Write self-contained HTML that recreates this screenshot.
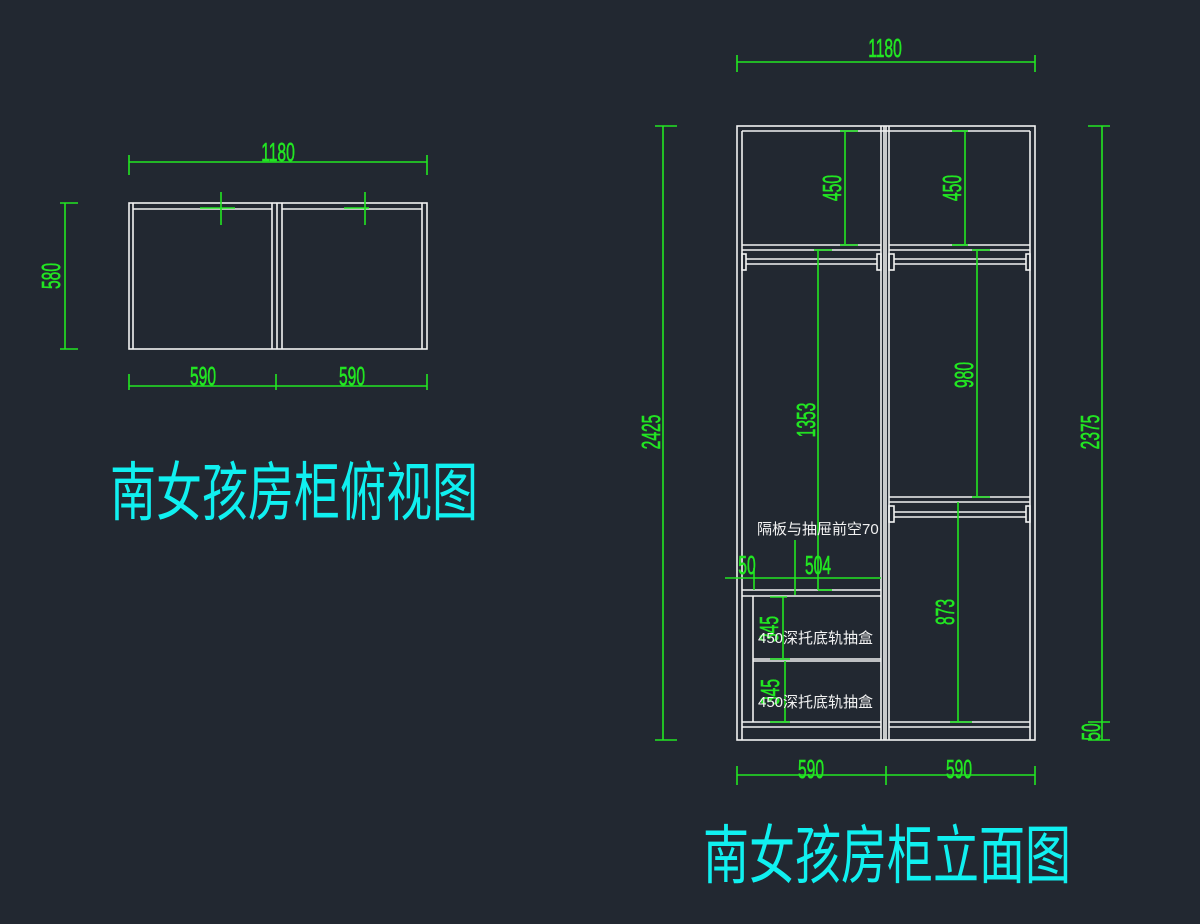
<!DOCTYPE html>
<html><head><meta charset="utf-8"><style>
html,body{margin:0;padding:0;background:#222831;}
svg{display:block}
.w{stroke:#f2f2f2;stroke-width:1.6;fill:none}
.g{stroke:#22e622;stroke-width:1.6;fill:none}
.gt{fill:#22e622;stroke:#22e622;stroke-width:0.6;font-family:"Liberation Sans",sans-serif;font-size:26px}
.ct{fill:#10f0f0;font-family:"Liberation Sans","Noto Sans CJK SC",sans-serif;font-size:64px}
.wt{fill:#f2f2f2;font-family:"Liberation Sans","Noto Sans CJK SC",sans-serif;font-size:15px}
</style></head><body>
<svg width="1200" height="924" viewBox="0 0 1200 924">
<rect width="1200" height="924" fill="#222831"/>
<!-- top view -->
<g class="w">
<rect x="129" y="203" width="298" height="146"/>
<line x1="133" y1="203" x2="133" y2="349"/>
<line x1="422" y1="203" x2="422" y2="349"/>
<line x1="272" y1="203" x2="272" y2="349"/>
<line x1="277" y1="203" x2="277" y2="349"/>
<line x1="282" y1="203" x2="282" y2="349"/>
<line x1="133" y1="209" x2="272" y2="209"/>
<line x1="282" y1="209" x2="422" y2="209"/>
</g>
<g class="g">
<line x1="129" y1="162" x2="427" y2="162"/><line x1="129" y1="155" x2="129" y2="175"/><line x1="427" y1="155" x2="427" y2="175"/>
<line x1="65" y1="203" x2="65" y2="349"/><line x1="60" y1="203" x2="78" y2="203"/><line x1="60" y1="349" x2="78" y2="349"/>
<line x1="129" y1="386" x2="427" y2="386"/><line x1="129" y1="374" x2="129" y2="390"/><line x1="276" y1="374" x2="276" y2="390"/><line x1="427" y1="374" x2="427" y2="390"/>
<line x1="221" y1="192" x2="221" y2="225"/><line x1="200" y1="208" x2="235" y2="208"/>
<line x1="365" y1="192" x2="365" y2="225"/><line x1="344" y1="208" x2="369" y2="208"/>
</g>
<g class="gt">
<text x="278" y="161" text-anchor="middle" transform="translate(278 0) scale(0.6 1) translate(-278 0)">1180</text>
<text x="203" y="385" text-anchor="middle" transform="translate(203 0) scale(0.6 1) translate(-203 0)">590</text>
<text x="352" y="385" text-anchor="middle" transform="translate(352 0) scale(0.6 1) translate(-352 0)">590</text>
<text text-anchor="middle" transform="translate(60 276) rotate(-90) scale(0.6 1)">580</text>
</g>
<text class="ct" x="110" y="515" textLength="368" lengthAdjust="spacingAndGlyphs">南女孩房柜俯视图</text>

<!-- elevation -->
<g class="w">
<rect x="737" y="126" width="298" height="614"/>
<line x1="742" y1="131" x2="742" y2="740"/>
<line x1="1030" y1="131" x2="1030" y2="740"/>
<line x1="742" y1="131" x2="1030" y2="131"/>
<line x1="881" y1="126" x2="881" y2="740"/><line x1="884" y1="126" x2="884" y2="740"/>
<line x1="886" y1="126" x2="886" y2="740"/><line x1="889" y1="126" x2="889" y2="740"/>
<line x1="742" y1="245" x2="881" y2="245"/><line x1="742" y1="250" x2="881" y2="250"/>
<line x1="889" y1="245" x2="1030" y2="245"/><line x1="889" y1="250" x2="1030" y2="250"/>
<line x1="746" y1="259" x2="877" y2="259"/><line x1="746" y1="264" x2="877" y2="264"/>
<rect x="742" y="254" width="4" height="16"/><rect x="877" y="254" width="4" height="16"/>
<line x1="894" y1="259" x2="1026" y2="259"/><line x1="894" y1="264" x2="1026" y2="264"/>
<rect x="889" y="254" width="5" height="16"/><rect x="1026" y="254" width="4" height="16"/>
<line x1="889" y1="497" x2="1030" y2="497"/><line x1="889" y1="502" x2="1030" y2="502"/>
<line x1="894" y1="512" x2="1026" y2="512"/><line x1="894" y1="517" x2="1026" y2="517"/>
<rect x="889" y="506" width="5" height="16"/><rect x="1026" y="506" width="4" height="16"/>
<line x1="742" y1="590" x2="881" y2="590"/><line x1="742" y1="596" x2="881" y2="596"/>
<line x1="753" y1="596" x2="753" y2="722"/>
<line x1="753" y1="659" x2="881" y2="659"/><line x1="753" y1="661" x2="881" y2="661"/>
<line x1="742" y1="722" x2="881" y2="722"/><line x1="742" y1="727" x2="881" y2="727"/>
<line x1="889" y1="722" x2="1030" y2="722"/><line x1="889" y1="727" x2="1030" y2="727"/>
</g>
<g class="g">
<line x1="737" y1="62" x2="1035" y2="62"/><line x1="737" y1="55" x2="737" y2="72"/><line x1="1035" y1="55" x2="1035" y2="72"/>
<line x1="663" y1="126" x2="663" y2="740"/><line x1="655" y1="126" x2="677" y2="126"/><line x1="655" y1="740" x2="677" y2="740"/>
<line x1="1102" y1="126" x2="1102" y2="740"/><line x1="1088" y1="126" x2="1110" y2="126"/><line x1="1088" y1="722" x2="1110" y2="722"/><line x1="1088" y1="740" x2="1110" y2="740"/>
<line x1="737" y1="775" x2="1035" y2="775"/><line x1="737" y1="766" x2="737" y2="785"/><line x1="886" y1="766" x2="886" y2="785"/><line x1="1035" y1="766" x2="1035" y2="785"/>
<line x1="845" y1="131" x2="845" y2="245"/><line x1="840" y1="131" x2="858" y2="131"/><line x1="840" y1="245" x2="858" y2="245"/>
<line x1="965" y1="131" x2="965" y2="245"/><line x1="952" y1="131" x2="968" y2="131"/><line x1="952" y1="245" x2="968" y2="245"/>
<line x1="818" y1="250" x2="818" y2="590"/><line x1="814" y1="250" x2="832" y2="250"/><line x1="818" y1="590" x2="832" y2="590"/>
<line x1="977" y1="250" x2="977" y2="497"/><line x1="972" y1="250" x2="990" y2="250"/><line x1="972" y1="497" x2="990" y2="497"/>
<line x1="958" y1="502" x2="958" y2="722"/><line x1="950" y1="722" x2="972" y2="722"/>
<line x1="725" y1="578" x2="881" y2="578"/><line x1="754" y1="568" x2="754" y2="590"/>
<line x1="795" y1="540" x2="795" y2="595"/>
<line x1="783" y1="597" x2="783" y2="659"/><line x1="770" y1="597" x2="787" y2="597"/><line x1="770" y1="659" x2="790" y2="659"/>
<line x1="785" y1="661" x2="785" y2="722"/><line x1="770" y1="722" x2="790" y2="722"/>
</g>
<g class="gt">
<text x="885" y="57" text-anchor="middle" transform="translate(885 0) scale(0.6 1) translate(-885 0)">1180</text>
<text x="811" y="778" text-anchor="middle" transform="translate(811 0) scale(0.6 1) translate(-811 0)">590</text>
<text x="959" y="778" text-anchor="middle" transform="translate(959 0) scale(0.6 1) translate(-959 0)">590</text>
<text x="747" y="574" text-anchor="middle" transform="translate(747 0) scale(0.6 1) translate(-747 0)">50</text>
<text x="818" y="574" text-anchor="middle" transform="translate(818 0) scale(0.6 1) translate(-818 0)">504</text>
<text text-anchor="middle" transform="translate(660 432) rotate(-90) scale(0.6 1)">2425</text>
<text text-anchor="middle" transform="translate(1099 432) rotate(-90) scale(0.6 1)">2375</text>
<text text-anchor="middle" transform="translate(1100 732) rotate(-90) scale(0.6 1)">50</text>
<text text-anchor="middle" transform="translate(841 188) rotate(-90) scale(0.6 1)">450</text>
<text text-anchor="middle" transform="translate(961 188) rotate(-90) scale(0.6 1)">450</text>
<text text-anchor="middle" transform="translate(815 420) rotate(-90) scale(0.6 1)">1353</text>
<text text-anchor="middle" transform="translate(973 375) rotate(-90) scale(0.6 1)">980</text>
<text text-anchor="middle" transform="translate(954 612) rotate(-90) scale(0.6 1)">873</text>
<text text-anchor="middle" transform="translate(778 629) rotate(-90) scale(0.6 1)">345</text>
<text text-anchor="middle" transform="translate(779 692) rotate(-90) scale(0.6 1)">345</text>
</g>
<text class="wt" x="757" y="534">隔板与抽屉前空70</text>
<text class="wt" x="758" y="643">450深托底轨抽盒</text>
<text class="wt" x="758" y="707">450深托底轨抽盒</text>
<text class="ct" x="703" y="878" textLength="368" lengthAdjust="spacingAndGlyphs">南女孩房柜立面图</text>
</svg>
</body></html>
